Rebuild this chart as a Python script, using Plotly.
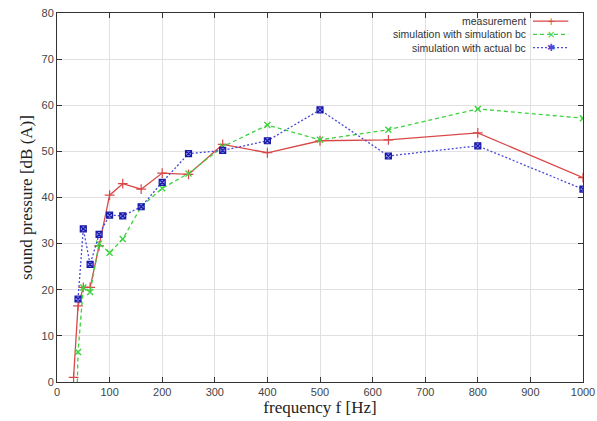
import plotly.graph_objects as go

freq = [31.5, 40, 50, 63, 80, 100, 125, 160, 200, 250, 315, 400, 500, 630, 800, 1000]
measurement = [1.0, 16.5, 20.5, 20.5, 29.5, 40.5, 43.0, 41.8, 45.3, 45.0, 51.5, 49.7, 52.3, 52.5, 54.0, 44.3]
sim_bc = [-35.0, 6.5, 20.5, 19.5, 30.0, 28.0, 31.0, 38.0, 42.0, 45.2, 51.0, 55.7, 52.5, 54.7, 59.2, 57.2]
freq_actual = [40, 50, 63, 80, 100, 125, 160, 200, 250, 315, 400, 500, 630, 800, 1000]
actual_bc = [18.0, 33.2, 25.5, 32.0, 36.2, 36.0, 38.0, 43.3, 49.5, 50.2, 52.3, 59.0, 49.0, 51.2, 41.8]

x_ticks = list(range(0, 1001, 100))
y_ticks = list(range(0, 81, 10))

legend_names = ["measurement", "simulation with simulation bc", "simulation with actual bc"]
red, green, blue = "#d94848", "#3ed23e", "#4a4ad8"
green_dash, blue_dash = "4px,3px", "2px,2px"

fig = go.Figure()
fig.add_trace(go.Scatter(x=freq, y=measurement, mode="lines+markers", name=legend_names[0],
                         line=dict(color=red, width=1.3),
                         marker=dict(symbol="cross-thin", size=7, line=dict(color=red, width=1.2))))
fig.add_trace(go.Scatter(x=freq, y=sim_bc, mode="lines+markers", name=legend_names[1],
                         line=dict(color=green, width=1.3, dash=green_dash),
                         marker=dict(symbol="x-thin", size=6, line=dict(color=green, width=1.4))))
fig.add_trace(go.Scatter(x=freq_actual, y=actual_bc, mode="lines+markers", name=legend_names[2],
                         line=dict(color=blue, width=1.3, dash=blue_dash),
                         marker=dict(symbol="square-x", size=6, color="rgba(130,130,235,0.9)",
                                     line=dict(color="#1a1aa8", width=1.2))))

# legend drawn gnuplot-style: text right-aligned, sample to the right
leg_rows = [(legend_names[0], red, "solid", "+"), (legend_names[1], green, green_dash, "×"),
            (legend_names[2], blue, blue_dash, "✱")]
for i, (name, col, dash, glyph) in enumerate(leg_rows):
    yy = 0.978 - i * 0.036
    fig.add_annotation(xref="paper", yref="paper", x=0.895, y=yy, text=name, showarrow=False,
                       xanchor="right", yanchor="middle",
                       font=dict(family="Liberation Sans, Arial", size=10.5, color="#333"))
    fig.add_shape(type="line", xref="paper", yref="paper", x0=0.905, x1=0.972, y0=yy, y1=yy,
                  line=dict(color=col, width=1.3, dash=dash))
    fig.add_annotation(xref="paper", yref="paper", x=0.9385, y=yy, text=glyph, showarrow=False,
                       xanchor="center", yanchor="middle",
                       font=dict(family="DejaVu Sans", size=10, color=col))

axis_common = dict(showline=True, linecolor="#333", linewidth=1, mirror="ticks", ticks="inside",
                   ticklen=5, tickcolor="#333", showgrid=True, gridcolor="#e0e0e0",
                   gridwidth=1, zeroline=False, automargin=False,
                   tickfont=dict(family="Liberation Sans, Arial", size=11, color="#444"))

fig.update_layout(
    width=597, height=421, paper_bgcolor="white", plot_bgcolor="white",
    margin=dict(l=57, r=14, t=13, b=39), showlegend=False,
    xaxis=dict(range=[0, 1000], tickvals=x_ticks, **axis_common,
               title=dict(text="frequency f [Hz]", standoff=0,
                          font=dict(family="Liberation Serif, Times New Roman", size=17, color="#222"))),
    yaxis=dict(range=[0, 80], tickvals=y_ticks, **axis_common,
               title=dict(text="sound pressure [dB (A)]", standoff=4,
                          font=dict(family="Liberation Serif, Times New Roman", size=17, color="#222"))),
)

fig.write_html("out.html", config={"displayModeBar": False},
               post_script="document.body.style.margin='0';document.body.style.overflow='hidden';")
